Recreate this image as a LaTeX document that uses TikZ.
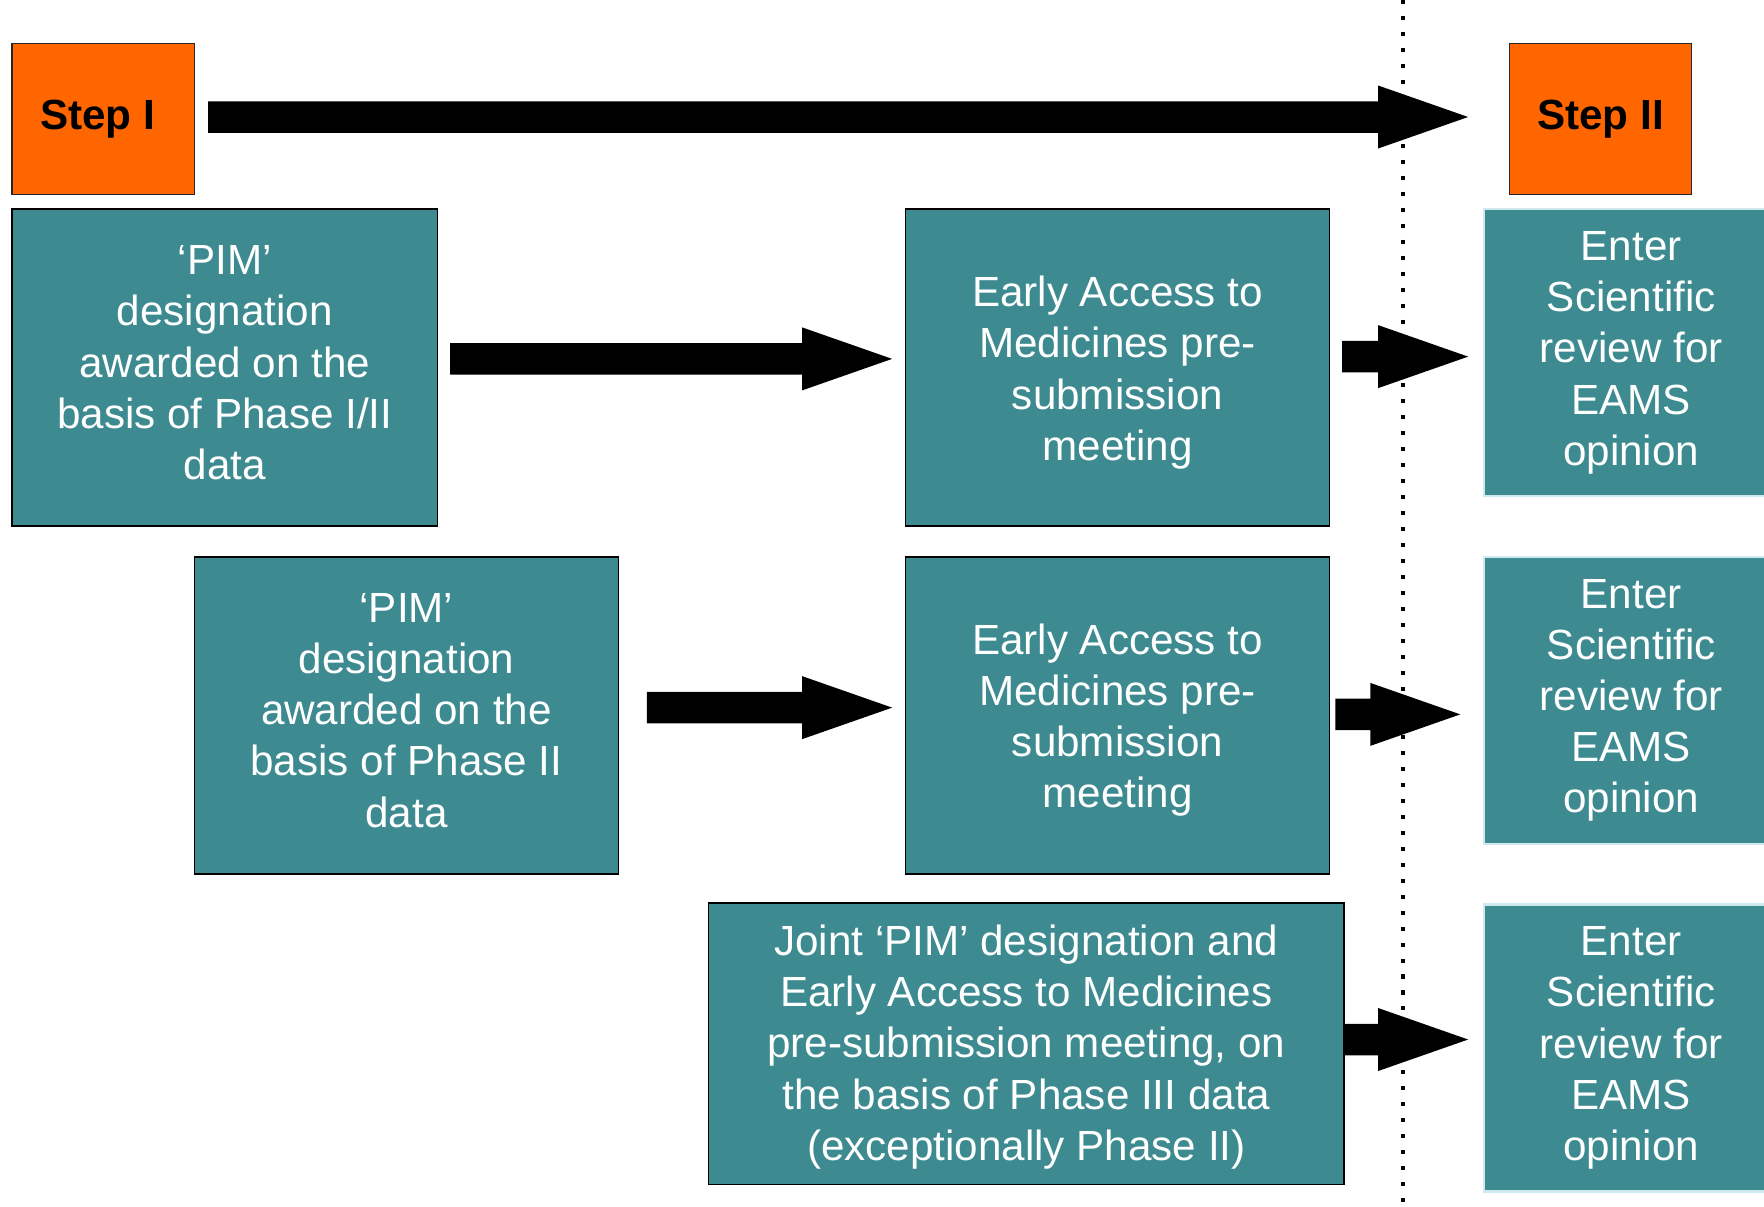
\documentclass[tikz,border=0pt]{standalone}
\usepackage{fontspec}
\setmainfont{Liberation Sans}
\usetikzlibrary{calc}
\definecolor{tealbg}{RGB}{61,139,145}
\definecolor{orangebg}{RGB}{255,102,0}
\definecolor{paleedge}{RGB}{205,235,238}
\tikzset{
  boxtext/.style={font=\fontsize{37.5}{45.5}\selectfont, align=center, inner sep=0pt, anchor=north west},
  tealbox/.style={boxtext, rectangle, fill=tealbg, draw=black, line width=1.6pt, text=white},
  enterbox/.style={boxtext, rectangle, fill=tealbg, draw=paleedge, line width=2pt, text=white},
  stepbox/.style={boxtext, rectangle, fill=orangebg, draw=black!85, line width=1.4pt, text=black, font=\fontsize{37.5}{45.5}\selectfont\bfseries},
  dotline/.style={line width=3.6pt, dash pattern=on 3.6pt off 10.6pt}
}
\newcommand\blockarrow[2]{%
  \fill[black] let \p1=(#1), \p2=(#2) in
    (\x1,\y1+14pt) -- (\x2-80pt,\y1+14pt) -- (\x2-80pt,\y1+28pt) -- (\x2,\y1)
    -- (\x2-80pt,\y1-28pt) -- (\x2-80pt,\y1-14pt) -- (\x1,\y1-14pt) -- cycle;}
\newcommand\downstrut{\rule[-9pt]{0pt}{9pt}}
\newcommand\upstrut{\rule{0pt}{36pt}}
\begin{document}
\begin{tikzpicture}[x=1pt,y=-1pt]
\useasboundingbox (0,0) rectangle (1568,1072);
% dotted divider
\coordinate (dtop) at (1247,0);
\coordinate (dbot) at (1247,1072);
\draw[dotline] (dtop) -- (dbot);
% step boxes
\node[stepbox, minimum width=162pt, minimum height=134pt] (s1) at (10,38) {Step I\hspace{10pt}};
\node[stepbox, minimum width=162pt, minimum height=134pt] (s2) at (1341,38) {Step II};
% row 1
\node[tealbox, minimum width=378pt, minimum height=282pt] (a1) at (10,185)
  {‘PIM’\\designation\\awarded on the\\basis of Phase I/II\\data\downstrut};
\node[tealbox, minimum width=377pt, minimum height=282pt] (b1) at (804,185)
  {\upstrut Early Access to\\Medicines pre-\\submission\\meeting};
\node[enterbox, minimum width=262pt, minimum height=255pt] (e1) at (1318,185)
  {Enter\\Scientific\\review for\\EAMS\\opinion};
% row 2
\node[tealbox, minimum width=377pt, minimum height=282pt] (a2) at (172,494)
  {‘PIM’\\designation\\awarded on the\\basis of Phase II\\data\downstrut};
\node[tealbox, minimum width=377pt, minimum height=282pt] (b2) at (804,494)
  {\upstrut Early Access to\\Medicines pre-\\submission\\meeting};
\node[enterbox, minimum width=262pt, minimum height=255pt] (e2) at (1318,494)
  {Enter\\Scientific\\review for\\EAMS\\opinion};
% row 3
\node[tealbox, minimum width=565pt, minimum height=250pt] (c3) at (629,802)
  {\rule{0pt}{33pt}Joint ‘PIM’ designation and\\Early Access to Medicines\\pre-submission meeting, on\\the basis of Phase III data\\(exceptionally Phase II)};
\node[enterbox, minimum width=262pt, minimum height=255pt] (e3) at (1318,803)
  {Enter\\Scientific\\review for\\EAMS\\opinion};
% arrow end points
\coordinate (t0) at (185,104);   \coordinate (t1) at (1305,104);
\coordinate (p1) at (400,319);   \coordinate (q1) at (793,319);
\coordinate (p2) at (1193,317);  \coordinate (q2) at (1305,317);
\coordinate (p3) at (575,629);   \coordinate (q3) at (793,629);
\coordinate (p4) at (1187,635);  \coordinate (q4) at (1298,635);
\coordinate (p5) at (1194,924);  \coordinate (q5) at (1305,924);
\blockarrow{t0}{t1}
\blockarrow{p1}{q1}
\blockarrow{p2}{q2}
\blockarrow{p3}{q3}
\blockarrow{p4}{q4}
\blockarrow{p5}{q5}
\end{tikzpicture}
\end{document}
